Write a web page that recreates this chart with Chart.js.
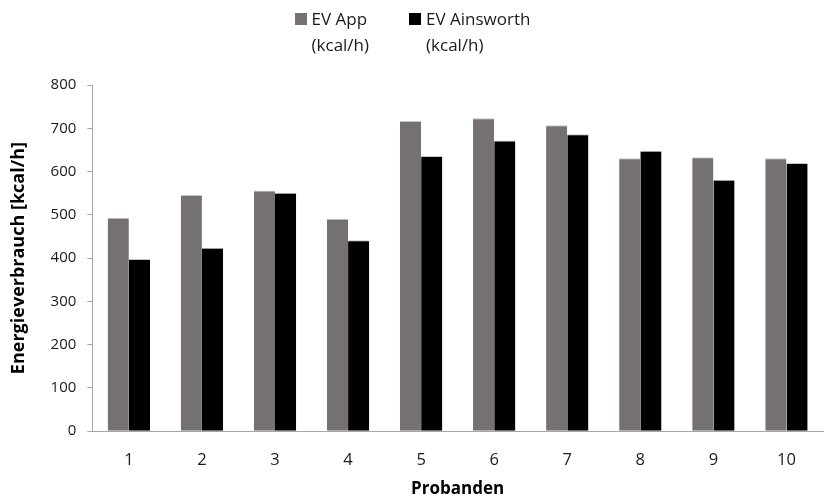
<!DOCTYPE html>
<html>
<head>
<meta charset="utf-8">
<script src="https://cdn.jsdelivr.net/npm/chart.js@4"></script>
<style>
  html, body { margin: 0; padding: 0; background: #fff; }
  #wrap { position: relative; width: 825px; height: 495px; }
  #legend {
    position: absolute; top: 6px; left: 0; width: 825px;
    display: flex; justify-content: center; gap: 40px;
    font-family: "Open Sans", sans-serif; font-size: 17px; color: #1a1a1a; line-height: 26px;
  }
  .item { display: flex; align-items: flex-start; }
  .box { width: 12px; height: 12px; margin: 7px 5px 0 0; }
</style>
</head>
<body>
<div id="wrap">
  <div id="legend"></div>
  <canvas id="chart"></canvas>
</div>
<script>
const probanden = ["1", "2", "3", "4", "5", "6", "7", "8", "9", "10"];
const evApp = [493, 546, 556, 491, 717, 723, 707, 631, 633, 631];
const evAinsworth = [398, 424, 551, 441, 636, 672, 686, 648, 581, 620];
const yTicks = [0, 100, 200, 300, 400, 500, 600, 700, 800];
const seriesNames = [["EV App", "(kcal/h)"], ["EV Ainsworth", "(kcal/h)"]];
const seriesColors = ["#767171", "#000000"];

const axisGray = "#a6a6a6";
const font = "Open Sans";

const chart = new Chart(document.getElementById("chart").getContext("2d"), {
  type: "bar",
  data: {
    labels: probanden,
    datasets: [evApp, evAinsworth].map((values, i) => ({
      label: seriesNames[i].join(" "),
      data: values,
      backgroundColor: seriesColors[i],
      borderColor: "#c8c8c8",
      borderWidth: { top: 1, left: 0, right: 0, bottom: 0 },
      categoryPercentage: 0.58,
      barPercentage: 1.0
    }))
  },
  options: {
    responsive: true,
    maintainAspectRatio: false,
    animation: false,
    layout: { padding: { left: 8, right: 2, top: 85, bottom: -3 } },
    plugins: {
      tooltip: { enabled: false },
      legend: { display: false }
    },
    scales: {
      x: {
        grid: { display: false },
        border: { display: true, color: axisGray, width: 1 },
        ticks: { color: "#1a1a1a", font: { family: font, size: 16.5 }, padding: 11 },
        title: {
          display: true,
          text: "Probanden",
          color: "#000",
          font: { family: font, size: 17, weight: "bold", lineHeight: 1.0 },
          padding: { top: 0, bottom: 0 }
        }
      },
      y: {
        min: 0,
        max: 800,
        afterBuildTicks: (axis) => { axis.ticks = yTicks.map(v => ({ value: v })); },
        grid: { drawOnChartArea: false, drawTicks: true, tickLength: 5, color: axisGray },
        border: { display: true, color: axisGray, width: 1 },
        ticks: { color: "#1a1a1a", font: { family: font, size: 15 }, padding: 11 },
        title: {
          display: true,
          text: "Energieverbrauch [kcal/h]",
          color: "#000",
          font: { family: font, size: 18, weight: "bold" },
          padding: { top: 0, bottom: 10 }
        }
      }
    }
  }
});

const legend = document.getElementById("legend");
chart.data.datasets.forEach((ds, i) => {
  const item = document.createElement("div");
  item.className = "item";
  const box = document.createElement("div");
  box.className = "box";
  box.style.background = ds.backgroundColor;
  const text = document.createElement("div");
  text.innerHTML = seriesNames[i].join("<br>");
  item.appendChild(box);
  item.appendChild(text);
  legend.appendChild(item);
});
</script>
</body>
</html>
